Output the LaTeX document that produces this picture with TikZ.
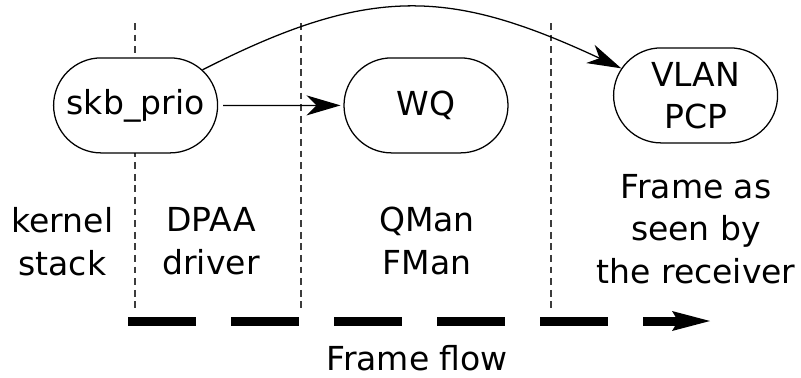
\documentclass[tikz,border=0pt]{standalone}
\usepackage{fontspec}
\setmainfont{DejaVu Sans}
\usepackage{xcolor}
\usetikzlibrary{shapes.misc,arrows.meta,positioning}
\definecolor{sepgray}{RGB}{60,60,60}

\begin{document}
\begin{tikzpicture}[
      font=\fontsize{23.5}{30}\selectfont, >=Stealth,
      every node/.style={align=center},
      stagebox/.style={rounded rectangle, draw=black, fill=white,
        minimum width=4.1cm, minimum height=2.375cm, inner sep=0pt, line width=0.9pt},
      sep/.style={dash pattern=on 0.17cm off 0.12cm, line width=0.75pt, color=sepgray},
      arr/.style={-{Stealth[length=0.85cm, width=0.5cm, inset=0.25cm]}, line width=0.9pt},
      flow/.style={-{Stealth[length=0.95cm, width=0.5cm, inset=0.15cm, line width=0pt]},
        line width=0.225cm, dash pattern=on 1.7cm off 0.875cm},
    ]
    \useasboundingbox (0,0) rectangle (20.025,9.425);

    % ── stage separators ──────────────────────────────────────
    \foreach \x in {3.375, 7.525, 13.775}
      \draw[sep] (\x,8.85) -- (\x,1.725);

    % ── priority fields ───────────────────────────────────────
    \node[stagebox] (skb) at (3.39, 6.79) {skb\_prio};
    \node[stagebox] (wq) at (10.65, 6.79) {WQ};
    \node[stagebox] (vlan) at (17.39, 7.04) {VLAN\\PCP};

    \draw[arr, shorten <=0.12cm, shorten >=0.07cm] (skb) -- (wq);
    \draw[arr] (skb.28) to[out=27, in=155, looseness=1.15] (vlan.160);

    % ── stage labels (base = last line) ───────────────────────
    \node[anchor=base] (kernel) at (1.56, 2.55) {kernel\\stack};
    \node[anchor=base] (dpaa) at (5.275, 2.575) {DPAA\\driver};
    \node[anchor=base] (qman) at (10.675, 2.575) {QMan\\FMan};
    \node[anchor=base] (recv) at (17.4, 2.35) {Frame as\\seen by\\the receiver};

    % ── frame flow ────────────────────────────────────────────
    \coordinate (flowstart) at (3.2, 1.4);
    \coordinate (flowend) at (17.75, 1.4);
    \draw[flow] (flowstart) -- (flowend);
    \node[anchor=base, inner sep=0pt] (flowlabel) at (10.43, 0.16) {Frame flow};

    \end{tikzpicture}
\end{document}
